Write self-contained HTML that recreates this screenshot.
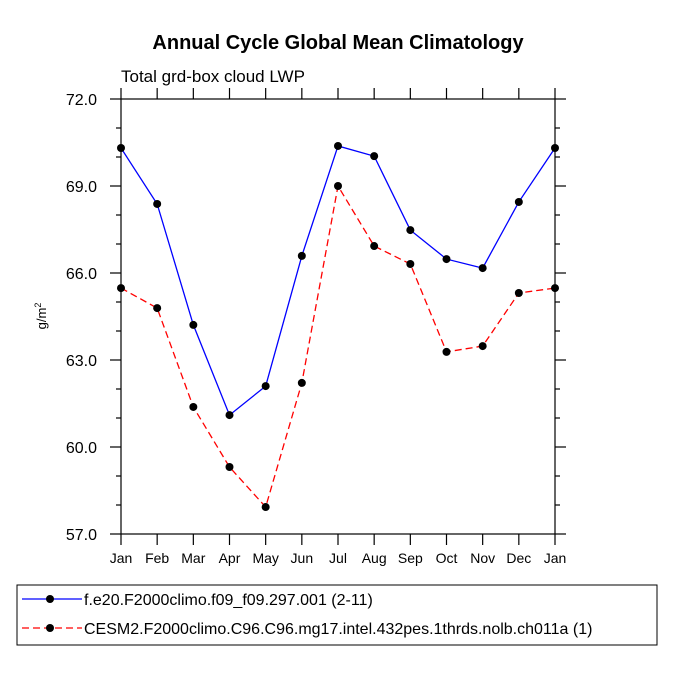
<!DOCTYPE html>
<html><head><meta charset="utf-8"><style>body{margin:0;background:#fff}svg{display:block}text{font-family:"Liberation Sans",sans-serif}</style></head>
<body>
<svg id="chart" width="675" height="675" viewBox="0 0 675 675" xmlns="http://www.w3.org/2000/svg">
<text x="338" y="49" text-anchor="middle" font-size="20" font-weight="bold">Annual Cycle Global Mean Climatology</text>
<text x="121" y="82" font-size="17">Total grd-box cloud LWP</text>
<text transform="translate(46,316) rotate(-90)" text-anchor="middle" font-size="13">g/m<tspan dy="-5" font-size="9">2</tspan></text>
<g id="axes"></g>
<g id="series"></g>
<rect x="17" y="585" width="640" height="60" fill="none" stroke="#000" stroke-width="1"/>
<g id="legend"></g>
</svg>
<script>
const months=["Jan","Feb","Mar","Apr","May","Jun","Jul","Aug","Sep","Oct","Nov","Dec","Jan"];
const blueValues=[70.31,68.38,64.21,61.10,62.10,66.59,70.38,70.03,67.48,66.48,66.17,68.45,70.31];
const redValues=[65.48,64.79,61.38,59.31,57.93,62.21,69.0,66.93,66.31,63.28,63.48,65.31,65.48];
const yTicks=[57.0,60.0,63.0,66.0,69.0,72.0];
const legendLabels=["f.e20.F2000climo.f09_f09.297.001 (2-11)","CESM2.F2000climo.C96.C96.mg17.intel.432pes.1thrds.nolb.ch011a (1)"];
const NS="http://www.w3.org/2000/svg";
const L=121,R=555,T=99,B=534,ymin=57,ymax=72;
const xs=i=>L+i*(R-L)/(months.length-1);
const ys=v=>B-(v-ymin)/(ymax-ymin)*(B-T);
function mk(tag,at,parent){const e=document.createElementNS(NS,tag);for(const k in at)e.setAttribute(k,at[k]);parent.appendChild(e);return e;}
const ax=document.getElementById('axes');
const frame=mk('rect',{x:L,y:T,width:R-L,height:B-T,fill:'none',stroke:'#000','stroke-width':1.2},ax);


months.forEach((m,i)=>{
  const x=xs(i);
  mk('line',{x1:x,y1:B,x2:x,y2:B+11,stroke:'#000','stroke-width':1.2},ax);
  mk('line',{x1:x,y1:T,x2:x,y2:T-11,stroke:'#000','stroke-width':1.2},ax);
  const t=mk('text',{x:x,y:B+29,'text-anchor':'middle','font-size':14},ax);
  t.textContent=m;
  
  
});
for(let v=ymin;v<=ymax+0.001;v+=1){
  const y=ys(v);const major=Math.abs((v-ymin)%3)<0.001;const len=major?11:5;
  mk('line',{x1:L,y1:y,x2:L-len,y2:y,stroke:'#000','stroke-width':1.2},ax);
  mk('line',{x1:R,y1:y,x2:R+len,y2:y,stroke:'#000','stroke-width':1.2},ax);
}
yTicks.forEach(v=>{
  const t=mk('text',{x:97,y:ys(v)+6,'text-anchor':'end','font-size':16},ax);
  t.textContent=v.toFixed(1);
  
  
});
const sg=document.getElementById('series');
function series(vals,color,dash,name){
  const p=mk('polyline',{points:vals.map((v,i)=>xs(i)+','+ys(v)).join(' '),fill:'none',stroke:color,'stroke-width':1.3,'stroke-dasharray':dash},sg);
  
  
  vals.forEach((v,i)=>{
    const c=mk('circle',{cx:xs(i),cy:ys(v),r:4,fill:'#000'},sg);
    
    
  });
}
series(blueValues,'#0000ff','none','blue-series');
series(redValues,'#ff0000','7,4','red-series');
const lg=document.getElementById('legend');
[['#0000ff','none',599],['#ff0000','7,4',628]].forEach((s,i)=>{
  const l=mk('line',{x1:22,y1:s[2],x2:82,y2:s[2],stroke:s[0],'stroke-width':1.3,'stroke-dasharray':s[1]},lg);
  
  
  mk('circle',{cx:50,cy:s[2],r:4,fill:'#000'},lg);
  const t=mk('text',{x:84,y:s[2]+6,'font-size':16},lg);
  t.textContent=legendLabels[i];
  
  
});
</script>
</body></html>
